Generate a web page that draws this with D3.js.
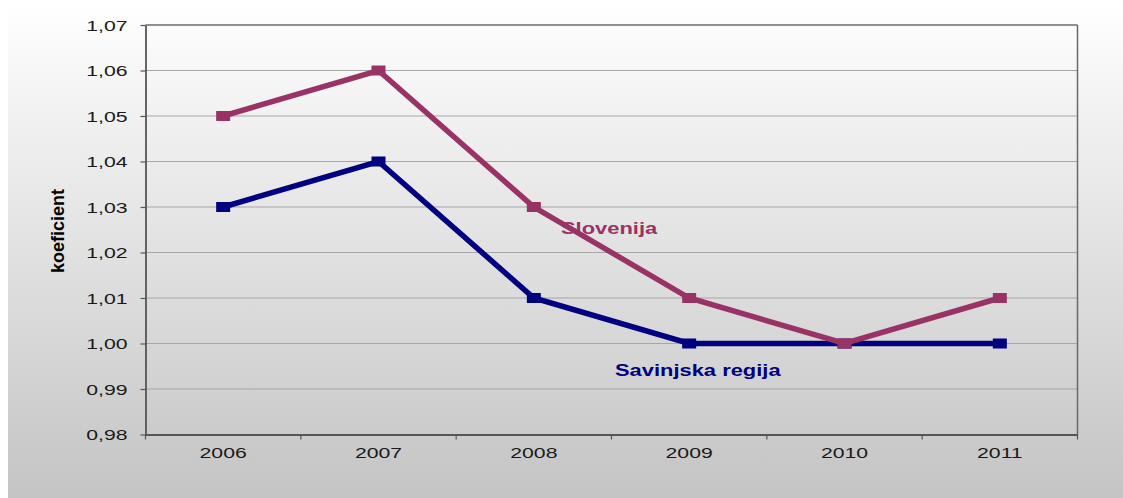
<!DOCTYPE html>
<html><head><meta charset="utf-8">
<script src="https://cdn.jsdelivr.net/npm/d3@7"></script>
<style>body{margin:0;background:#fff}svg{display:block}</style>
</head><body><svg id="c" width="1123" height="498"></svg>
<script>
const years = ["2006","2007","2008","2009","2010","2011"];
const slovenija = [1.05, 1.06, 1.03, 1.01, 1.00, 1.01];
const savinjska = [1.03, 1.04, 1.01, 1.00, 1.00, 1.00];
const yTicks = [0.98, 0.99, 1.00, 1.01, 1.02, 1.03, 1.04, 1.05, 1.06, 1.07];
const seriesNames = ["Slovenija", "Savinjska regija"];

const SX = 1.37; // horizontal stretch of the original picture
const FONT = "'Liberation Sans', Arial, sans-serif";
const svg = d3.select("#c");
const defs = svg.append("defs");
const g = defs.append("linearGradient").attr("id","bg").attr("x1",0).attr("y1",0).attr("x2",0).attr("y2",1);
g.append("stop").attr("offset","0%").attr("stop-color","#ffffff");
g.append("stop").attr("offset","100%").attr("stop-color","#c4c4c4");
svg.append("rect").attr("x",8).attr("y",0).attr("width",1115).attr("height",498).attr("fill","url(#bg)");

const L=145.5, R=1077.5, T=25, B=434.5;
const x = d3.scaleBand().domain(years).range([L,R]);
const y = d3.scaleLinear().domain([0.98,1.07]).range([B,T]);

svg.append("g").selectAll("line").data(yTicks).join("line")
  .attr("x1",L).attr("x2",R).attr("y1",d=>y(d)).attr("y2",d=>y(d))
  .attr("stroke","#a6a6a6").attr("stroke-width",1.2);

svg.append("line").attr("x1",L).attr("x2",R).attr("y1",T).attr("y2",T).attr("stroke","#7a7a7a").attr("stroke-width",1.5);
svg.append("line").attr("x1",R).attr("x2",R).attr("y1",T).attr("y2",B).attr("stroke","#6a6a6a").attr("stroke-width",1.5);

const yAxis = svg.append("g").attr("transform",`translate(${L},0)`)
  .call(d3.axisLeft(y).tickValues(yTicks).tickSize(5).tickSizeOuter(0).tickFormat(d=>d3.format(".2f")(d).replace(".",",")));
const xAxis = svg.append("g").attr("transform",`translate(0,${B})`)
  .call(d3.axisBottom(x).tickSize(0).tickSizeOuter(0));
svg.append("g").selectAll("line").data(d3.range(years.length+1)).join("line")
  .attr("x1",i=>L+i*x.step()).attr("x2",i=>L+i*x.step()).attr("y1",B).attr("y2",B+5)
  .attr("stroke","#555").attr("stroke-width",1.2);

[yAxis,xAxis].forEach(a=>{
  a.select(".domain").attr("stroke","#555").attr("stroke-width",1.8);
  a.selectAll(".tick line").attr("stroke","#555").attr("stroke-width",1.2);
  a.selectAll("text").attr("fill","#1a1a1a").style("font-family",FONT).style("font-size","15.5px");
});
yAxis.selectAll("text").attr("x",0).attr("dy","0.35em").attr("transform",`translate(-18,0) scale(${SX},1)`);
xAxis.selectAll("text").attr("dy","0").attr("y",0).attr("transform",`translate(0,23) scale(${SX},1)`);

svg.append("text").attr("transform","translate(64,231) rotate(-90)")
  .attr("text-anchor","middle").style("font-family","'Liberation Sans Narrow','Liberation Sans',sans-serif")
  .style("font-weight","bold").style("font-size","18px").attr("fill","#000").text("koeficient");

const line = d3.line().x((d,i)=>x(years[i])+x.bandwidth()/2).y(d=>y(d));
const series = [{vals:savinjska,color:"#000080"},{vals:slovenija,color:"#993366"}];
series.forEach(s=>{
  svg.append("path").datum(s.vals).attr("d",line).attr("fill","none")
    .attr("stroke",s.color).attr("stroke-width",5.5).attr("stroke-linejoin","miter");
  svg.append("g").selectAll("rect").data(s.vals).join("rect")
    .attr("x",(d,i)=>x(years[i])+x.bandwidth()/2-7).attr("y",d=>y(d)-5)
    .attr("width",14).attr("height",10).attr("fill",s.color);
});

svg.append("text").attr("transform",`translate(561,234) scale(${SX},1)`).attr("fill","#993366")
  .style("font-family",FONT).style("font-weight","bold").style("font-size","16px").text(seriesNames[0]);
svg.append("text").attr("transform",`translate(615,376) scale(${SX},1)`).attr("fill","#000080")
  .style("font-family",FONT).style("font-weight","bold").style("font-size","16px").text(seriesNames[1]);
</script></body></html>
